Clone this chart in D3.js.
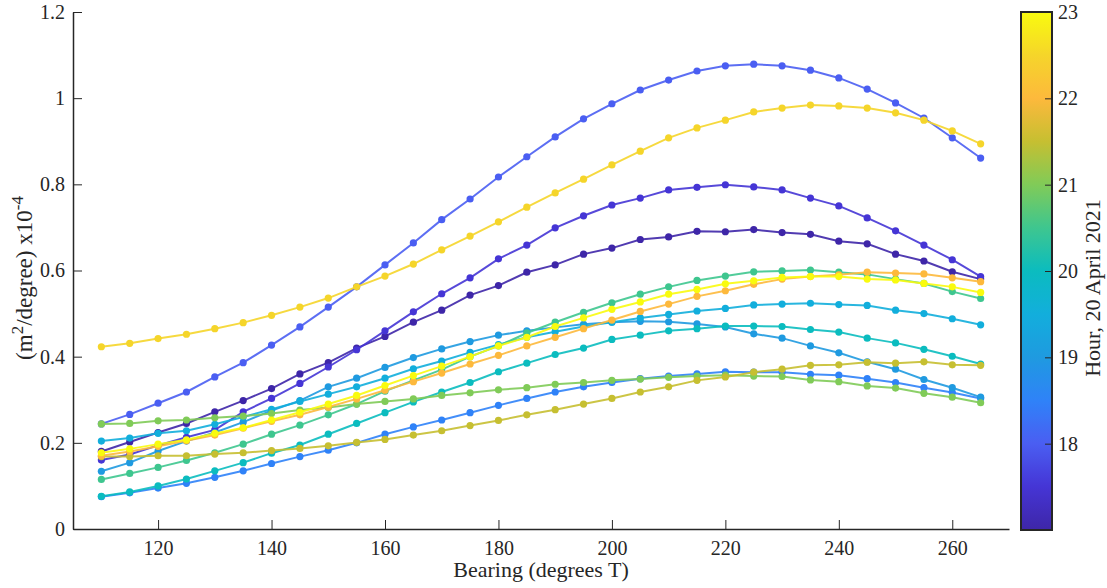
<!DOCTYPE html>
<html>
<head>
<meta charset="utf-8">
<script src="https://cdn.jsdelivr.net/npm/d3@7"></script>
<style>
  body { margin: 0; background: #fff; }
  svg text { font-family: "Liberation Serif", "Times New Roman", serif; }
  .tick text { font-size: 20px; fill: #262626; font-family: "Liberation Serif", "Times New Roman", serif; }
  .tick line, .domain { stroke: #262626; }
</style>
</head>
<body>
<svg id="chart" width="1107" height="588"></svg>
<script>
// bearing (degrees T)
const bearings = [110,115,120,125,130,135,140,145,150,155,160,165,170,175,180,185,
                  190,195,200,205,210,215,220,225,230,235,240,245,250,255,260,265];
// hour of each series, 20 April 2021
const hours = [17, 17.5, 18, 18.5, 19, 19.5, 20, 20.5, 21, 21.5, 22, 22.5, 23];

// values in (m^2/degree) x10^-4
const h1700 = [0.180,0.202,0.224,0.245,0.272,0.298,0.326,0.360,0.386,0.420,0.447,0.480,0.508,0.543,0.565,0.596,
               0.613,0.638,0.652,0.672,0.678,0.691,0.690,0.695,0.688,0.684,0.668,0.662,0.638,0.622,0.597,0.580];
const h1730 = [0.160,0.173,0.194,0.213,0.230,0.272,0.303,0.338,0.376,0.416,0.460,0.504,0.546,0.583,0.627,0.659,
               0.699,0.727,0.752,0.768,0.787,0.793,0.799,0.794,0.787,0.768,0.750,0.722,0.692,0.659,0.625,0.586];
const h1800 = [0.244,0.266,0.292,0.318,0.353,0.386,0.427,0.469,0.515,0.562,0.613,0.664,0.718,0.766,0.817,0.864,
               0.910,0.952,0.987,1.019,1.042,1.063,1.075,1.079,1.075,1.065,1.047,1.021,0.989,0.954,0.908,0.861];
const h1830 = [0.075,0.084,0.095,0.106,0.120,0.135,0.152,0.168,0.183,0.200,0.220,0.237,0.253,0.270,0.287,0.303,
               0.318,0.330,0.340,0.349,0.355,0.360,0.365,0.364,0.364,0.359,0.357,0.349,0.340,0.328,0.317,0.303];
const h1900 = [0.134,0.154,0.181,0.204,0.224,0.248,0.275,0.298,0.330,0.350,0.375,0.398,0.418,0.435,0.450,0.460,
               0.468,0.475,0.480,0.482,0.481,0.476,0.469,0.453,0.443,0.425,0.409,0.388,0.371,0.347,0.328,0.306];
const h1930 = [0.204,0.211,0.222,0.228,0.243,0.260,0.278,0.296,0.313,0.330,0.350,0.372,0.390,0.410,0.428,0.445,
               0.458,0.470,0.480,0.490,0.498,0.506,0.512,0.520,0.522,0.524,0.521,0.519,0.508,0.500,0.488,0.474];
const h2000 = [0.076,0.086,0.100,0.116,0.135,0.154,0.176,0.195,0.220,0.245,0.270,0.295,0.318,0.340,0.365,0.385,
               0.405,0.420,0.440,0.450,0.460,0.465,0.471,0.471,0.470,0.463,0.457,0.443,0.432,0.417,0.401,0.383];
const h2030 = [0.115,0.129,0.143,0.159,0.177,0.197,0.220,0.241,0.265,0.290,0.320,0.345,0.370,0.400,0.425,0.455,
               0.480,0.503,0.525,0.545,0.562,0.577,0.587,0.597,0.599,0.601,0.596,0.591,0.580,0.570,0.551,0.535];
const h2100 = [0.244,0.245,0.251,0.253,0.258,0.262,0.268,0.276,0.282,0.290,0.296,0.302,0.310,0.316,0.323,0.328,
               0.336,0.340,0.345,0.348,0.352,0.355,0.357,0.355,0.354,0.346,0.342,0.332,0.327,0.315,0.306,0.293];
const h2130 = [0.168,0.168,0.170,0.170,0.174,0.177,0.182,0.187,0.193,0.201,0.208,0.218,0.228,0.240,0.252,0.265,
               0.277,0.290,0.303,0.318,0.330,0.345,0.353,0.364,0.371,0.380,0.381,0.387,0.385,0.388,0.381,0.380];
const h2200 = [0.170,0.180,0.192,0.205,0.218,0.234,0.250,0.265,0.283,0.302,0.322,0.342,0.362,0.383,0.403,0.425,
               0.445,0.465,0.485,0.505,0.522,0.540,0.553,0.568,0.580,0.586,0.590,0.596,0.594,0.592,0.583,0.574];
const h2230 = [0.423,0.431,0.442,0.452,0.465,0.479,0.496,0.515,0.536,0.562,0.587,0.615,0.648,0.680,0.713,0.747,
               0.780,0.812,0.845,0.877,0.908,0.931,0.949,0.968,0.977,0.984,0.982,0.977,0.966,0.949,0.924,0.894];
const h2300 = [0.177,0.186,0.197,0.207,0.222,0.235,0.253,0.271,0.290,0.310,0.333,0.356,0.378,0.400,0.425,0.445,
               0.470,0.490,0.510,0.527,0.545,0.556,0.569,0.576,0.584,0.586,0.586,0.580,0.578,0.570,0.562,0.549];

const seriesValues = [h1700,h1730,h1800,h1830,h1900,h1930,h2000,h2030,h2100,h2130,h2200,h2230,h2300];

const xTicks = [120,140,160,180,200,220,240,260];
const yTicks = [0,0.2,0.4,0.6,0.8,1,1.2];
const cTicks = [18,19,20,21,22,23];

// parula-like colour stops over the hour range
const parula = ["#3e26a8","#4535d5","#4a5ef2","#2f82f8","#1f9ae0","#12aedc","#0bbcbf",
                "#3ec68f","#80cb58","#c6bf31","#fdb93c","#f5d52a","#f9fb0e"];
const color = d3.scaleLinear()
  .domain(d3.range(parula.length).map(i => 17 + i * 6 / (parula.length - 1)))
  .range(parula)
  .interpolate(d3.interpolateRgb);

const svg = d3.select("#chart");
const x = d3.scaleLinear().domain([105, 270]).range([73, 1009]);
const y = d3.scaleLinear().domain([0, 1.2]).range([529, 12]);

const line = d3.line().x((d, i) => x(bearings[i])).y(d => y(d));

const g = svg.append("g");
seriesValues.forEach((vals, k) => {
  const c = color(hours[k]);
  const s = g.append("g");
  s.append("path").attr("d", line(vals)).attr("fill", "none")
    .attr("stroke", c).attr("stroke-width", 2).attr("stroke-opacity", 0.9);
  s.selectAll("circle").data(vals).enter().append("circle")
    .attr("cx", (d, i) => x(bearings[i])).attr("cy", d => y(d))
    .attr("r", 3.6).attr("fill", c);
});

// axes
const xAxis = d3.axisBottom(x).tickValues(xTicks).tickSizeInner(-9).tickSizeOuter(0).tickPadding(12);
svg.append("g").attr("transform", "translate(0,529)").call(xAxis);
const yAxis = d3.axisLeft(y).tickValues(yTicks).tickFormat(d3.format("")).tickSizeInner(-9).tickSizeOuter(0).tickPadding(8);
svg.append("g").attr("transform", "translate(73,0)").call(yAxis);
svg.selectAll(".domain").attr("stroke-width", 1.5);

svg.append("text").attr("x", 541).attr("y", 577).attr("text-anchor", "middle")
  .attr("font-size", 22).attr("fill", "#262626").text("Bearing (degrees T)");

const yl = svg.append("text").attr("transform", "translate(32,278) rotate(-90)")
  .attr("text-anchor", "middle").attr("font-size", 23).attr("fill", "#262626");
yl.append("tspan").text("(m");
yl.append("tspan").attr("dy", -9).attr("font-size", 17).text("2");
yl.append("tspan").attr("dy", 9).text("/degree) x10");
yl.append("tspan").attr("dy", -9).attr("font-size", 17).text("-4");

// colorbar
const cy = d3.scaleLinear().domain([17, 23]).range([530, 12]);
const grad = svg.append("defs").append("linearGradient").attr("id", "cbar")
  .attr("x1", 0).attr("y1", 1).attr("x2", 0).attr("y2", 0);
d3.range(0, 61).forEach(i => {
  const h = 17 + i * 0.1;
  grad.append("stop").attr("offset", (i / 60)).attr("stop-color", color(h));
});
svg.append("rect").attr("x", 1021).attr("y", 12).attr("width", 31).attr("height", 518)
  .attr("fill", "url(#cbar)").attr("stroke", "#262626").attr("stroke-width", 2);
const cAxis = d3.axisRight(cy).tickValues(cTicks).tickFormat(d3.format("d")).tickSizeInner(-7).tickSizeOuter(0).tickPadding(6);
const cg = svg.append("g").attr("transform", "translate(1052,0)").call(cAxis);
cg.select(".domain").remove();

svg.append("text").attr("transform", "translate(1100,288) rotate(-90)")
  .attr("text-anchor", "middle").attr("font-size", 22).attr("fill", "#262626")
  .text("Hour, 20 April 2021");
</script>
</body>
</html>
